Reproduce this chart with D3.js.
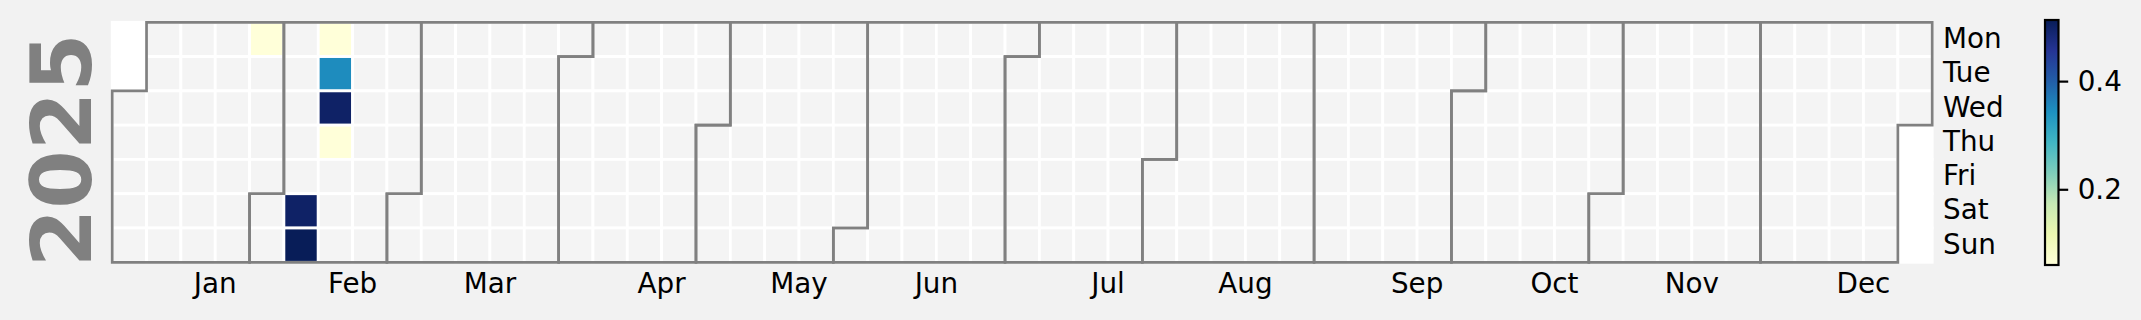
<!DOCTYPE html>
<html>
<head>
<meta charset="utf-8">
<script src="https://cdn.jsdelivr.net/npm/d3@7"></script>
<style>
  html, body { margin: 0; padding: 0; background: #f2f2f2; }
  svg { display: block; }
  text { font-family: "DejaVu Sans", sans-serif; }
</style>
</head>
<body>
<svg id="chart" width="2141" height="320"></svg>
<script>
// ---- data ----
const year = 2025;
const dates = ["2025-01-27", "2025-02-08", "2025-02-09", "2025-02-10", "2025-02-11", "2025-02-12", "2025-02-13"];
const values = [0.06, 0.50, 0.513, 0.06, 0.349, 0.50, 0.06];
const monthLabels = ["Jan", "Feb", "Mar", "Apr", "May", "Jun", "Jul", "Aug", "Sep", "Oct", "Nov", "Dec"];
const dayLabels = ["Mon", "Tue", "Wed", "Thu", "Fri", "Sat", "Sun"];
const colorbarTicks = [0.2, 0.4];
const ylgnbu = ["#ffffd9", "#edf8b1", "#c7e9b4", "#7fcdbb", "#41b6c4", "#1d91c0", "#225ea8", "#253494", "#081d58"];

// ---- setup ----
const svg = d3.select("#chart");
svg.append("rect").attr("width", 2141).attr("height", 320).attr("fill", "#f2f2f2");

const parse = d3.timeParse("%Y-%m-%d");
const valueByDay = new Map(dates.map((d, i) => [+parse(d), values[i]]));

const yearStart = new Date(year, 0, 1);
const yearEnd = new Date(year, 11, 31);
const gridStart = d3.timeMonday.floor(yearStart);
const gridEnd = d3.timeDay.offset(d3.timeMonday.ceil(d3.timeDay.offset(yearEnd, 1)), 0);
const allDays = d3.timeDay.range(gridStart, gridEnd);
const nWeeks = Math.ceil(allDays.length / 7);

const colOf = d => Math.floor(d3.timeDay.count(gridStart, d) / 7);
const rowOf = d => (d.getDay() + 6) % 7;

const x = d3.scaleLinear().domain([0, nWeeks]).range([112.2, 1932.2]);
const y = d3.scaleLinear().domain([0, 7]).range([22.3, 262.3]);

const [vmin, vmax] = d3.extent(values);
const color = d3.scaleLinear()
  .domain(ylgnbu.map((c, i) => vmin + i / (ylgnbu.length - 1) * (vmax - vmin)))
  .range(ylgnbu)
  .interpolate(d3.interpolateRgb);

// ---- cells ----
svg.append("g").selectAll("rect")
  .data(allDays)
  .join("rect")
  .attr("x", d => x(colOf(d)))
  .attr("y", d => y(rowOf(d)))
  .attr("width", x(1) - x(0))
  .attr("height", y(1) - y(0))
  .attr("fill", d => {
    if (d < yearStart || d > yearEnd) return "#ffffff";
    const v = valueByDay.get(+d);
    return v === undefined ? "#f4f4f4" : color(v);
  })
  .attr("stroke", "#ffffff")
  .attr("stroke-width", 2.78);

// ---- month borders ----
const months = d3.timeMonth.range(yearStart, new Date(year + 1, 0, 1));
const monthPoly = m => {
  const f = m, l = d3.timeDay.offset(d3.timeMonth.offset(m, 1), -1);
  const c0 = colOf(f), r0 = rowOf(f), c1 = colOf(l), r1 = rowOf(l);
  const P = [[c0, r0], [c0 + 1, r0], [c0 + 1, 0], [c1 + 1, 0], [c1 + 1, r1 + 1], [c1, r1 + 1], [c1, 7], [c0, 7]];
  return "M" + P.map(p => x(p[0]) + "," + y(p[1])).join("L") + "Z";
};
svg.append("g").selectAll("path")
  .data(months)
  .join("path")
  .attr("d", monthPoly)
  .attr("fill", "none")
  .attr("stroke", "#808080")
  .attr("stroke-width", 2.7)
  .attr("stroke-linejoin", "miter");

// ---- month labels (at week of the 15th) ----
svg.append("g").selectAll("text")
  .data(months)
  .join("text")
  .attr("x", (m) => x(colOf(new Date(year, m.getMonth(), 15)) + 1))
  .attr("y", 293.3)
  .attr("text-anchor", "middle")
  .attr("font-size", 27.8)
  .attr("fill", "#000")
  .text((m, i) => monthLabels[i]);

// ---- day labels ----
svg.append("g").selectAll("text")
  .data(dayLabels)
  .join("text")
  .attr("x", 1943)
  .attr("y", (d, i) => y(i + 0.5) + 8.6)
  .attr("font-size", 27.8)
  .attr("fill", "#000")
  .text(d => d);

// ---- year label ----
svg.append("text")
  .attr("transform", `translate(90.7, ${(y(0) + y(7)) / 2 + 8}) rotate(-90)`)
  .attr("text-anchor", "middle")
  .attr("font-size", 84)
  .attr("font-weight", "bold")
  .attr("fill", "#808080")
  .text(year);

// ---- colorbar ----
const cbX = 2045, cbW = 13.5;
const cbScale = d3.scaleLinear().domain([vmin, vmax]).range([265, 20]);
const defs = svg.append("defs");
const grad = defs.append("linearGradient").attr("id", "cbgrad")
  .attr("x1", 0).attr("y1", 1).attr("x2", 0).attr("y2", 0);
grad.selectAll("stop").data(ylgnbu).join("stop")
  .attr("offset", (c, i) => i / (ylgnbu.length - 1))
  .attr("stop-color", c => c);
svg.append("rect")
  .attr("x", cbX).attr("y", cbScale(vmax))
  .attr("width", cbW).attr("height", cbScale(vmin) - cbScale(vmax))
  .attr("fill", "url(#cbgrad)")
  .attr("stroke", "#000").attr("stroke-width", 2.2);

const cbAxis = d3.axisRight(cbScale)
  .tickValues(colorbarTicks)
  .tickFormat(d3.format(".1f"))
  .tickSize(9.7)
  .tickPadding(9.5);
const gAxis = svg.append("g")
  .attr("transform", `translate(${cbX + cbW},0)`)
  .call(cbAxis);
gAxis.select(".domain").remove();
gAxis.selectAll(".tick line").attr("stroke", "#000").attr("stroke-width", 2.2);
gAxis.selectAll(".tick text")
  .attr("font-size", 27.8)
  .attr("font-family", "DejaVu Sans")
  .attr("fill", "#000");
</script>
</body>
</html>
